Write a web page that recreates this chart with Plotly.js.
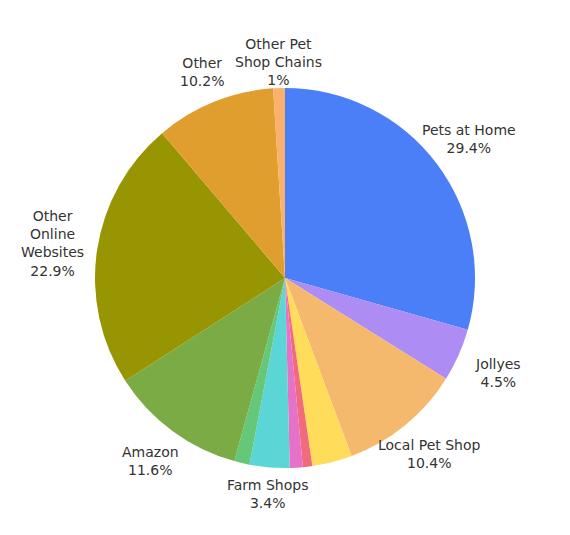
<!DOCTYPE html>
<html>
<head>
<meta charset="utf-8">
<script src="https://cdn.plot.ly/plotly-3.0.1.min.js"></script>
<style>
  html, body { margin: 0; padding: 0; background: #fff; }
  #chart { width: 570px; height: 535px; }
</style>
</head>
<body>
<div id="chart"></div>
<script>
    "use strict";

    // shares of where pet owners shop, clockwise from 12 o'clock
    var shopNames = [
        'Pets at Home', 'Jollyes', 'Local Pet Shop', 'Supermarkets',
        'Vets', 'Garden Centres', 'Farm Shops', 'Pet Food Delivery',
        'Amazon', 'Other<br>Online<br>Websites', 'Other', 'Other Pet<br>Shop Chains'
    ];
    var shopShares = [29.4, 4.5, 10.4, 3.4, 0.8, 1.1, 3.4, 1.3, 11.6, 22.9, 10.2, 1.0];
    var showLabel = [true, true, true, false, false, false, true, false, true, true, true, true];
    var sliceColors = [
        '#4a7ff7', '#ad8cf4', '#f4b96d', '#ffdc5a',
        '#f06c7c', '#e572c6', '#5bd5d5', '#64c878',
        '#7bab44', '#979502', '#e09e2f', '#fbb06c'
    ];

    var plotSize = 380; // px, square plot area holding the pie

    // labels sit on a ring round the pie, centred on each slice's middle angle
    function buildLabels() {
        var total = shopShares.reduce(function (a, b) { return a + b; }, 0);
        var acc = 0;
        var notes = [];
        shopShares.forEach(function (v, i) {
            var mid = (acc + v / 2) / total * 2 * Math.PI;
            acc += v;
            if (!showLabel[i]) {
                return;
            }
            var dist = (215 + 20 * Math.abs(Math.sin(mid))) / plotSize;
            notes.push({
                xref: 'paper',
                yref: 'paper',
                x: 0.5 + dist * Math.sin(mid),
                y: 0.5 + dist * Math.cos(mid),
                xanchor: 'center',
                yanchor: 'middle',
                showarrow: false,
                text: shopNames[i] + '<br>' + v + '%',
                font: { family: 'DejaVu Sans', size: 14, color: '#333' }
            });
        });
        return notes;
    }

    var pie = {
        type: 'pie',
        labels: shopNames,
        values: shopShares,
        textinfo: 'none',
        hoverinfo: 'label+percent',
        sort: false,
        direction: 'clockwise',
        rotation: 0,
        marker: {
            colors: sliceColors,
            line: { width: 0 }
        }
    };

    var layout = {
        width: 570,
        height: 535,
        showlegend: false,
        paper_bgcolor: '#fff',
        margin: { l: 95, r: 95, t: 88, b: 67 },
        font: { family: 'DejaVu Sans', size: 14, color: '#333' },
        annotations: buildLabels()
    };

    Plotly.newPlot('chart', [pie], layout, { displayModeBar: false });
</script>
</body>
</html>
